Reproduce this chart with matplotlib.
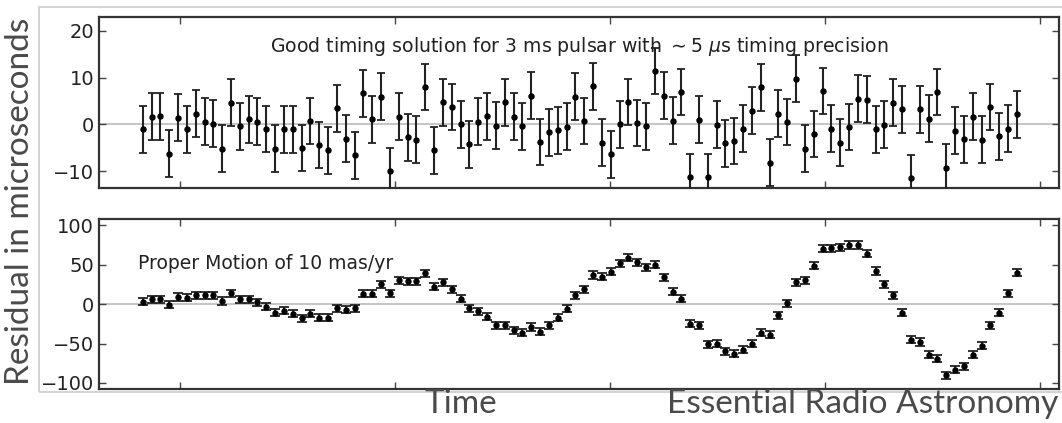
import matplotlib
matplotlib.use("Agg")
import matplotlib.pyplot as plt
from matplotlib.patches import Rectangle
import numpy as np

plt.rcParams["font.family"] = ["DejaVu Sans"]
plt.rcParams["mathtext.fontset"] = "dejavusans"

# residuals (microseconds)
good_timing = [
    -1.1, 1.6, 1.7, -6.3, 1.4, -1.1, 2.3, 0.6, 0.1, -5.2,
    4.6, -0.4, 1.1, 0.6, -1.0, -5.2, -1.1, -1.1, -5.1, 0.7,
    -4.4, -5.6, 3.4, -3.1, -6.6, 6.6, 1.1, 5.9, -10.1, 1.6,
    -2.8, -3.3, 8.0, -5.6, 4.7, 3.7, 0.0, -4.3, 0.6, 1.7,
    -0.3, 4.7, 1.6, -0.4, 6.1, -3.8, -1.7, -1.3, -0.5, 5.9,
    0.7, 8.1, -3.9, -6.4, 0.0, 4.8, 0.3, -0.4, 11.4, 6.1,
    0.8, 6.9, -11.3, 1.0, -11.3, -0.1, -4.1, -3.6, -0.9, 2.9,
    7.9, -8.2, 2.3, 0.5, 9.8, -5.2, -2.1, 7.1, -0.9, -3.9,
    -0.6, 5.5, 5.3, -1.1, -0.1, 4.6, 3.2, -11.5, 3.2, 1.2,
    6.9, -9.3, -1.4, -3.2, 1.6, -3.3, 3.7, -2.6, -0.9, 2.1,
]
proper_motion = [
    3, 6, 6, -1, 9, 8, 11, 11, 11, 4,
    14, 6, 6, 2.5, -3, -11, -8.5, -12, -18, -12,
    -17, -17, -5, -7, -5, 13, 13, 25, 14, 30,
    29, 29, 39, 22, 28, 19, 7, -5.5, -9, -16,
    -27, -27, -33, -36, -29, -35, -27, -17, -6, 11,
    19, 37, 35, 41, 52, 59, 53, 47, 50, 34,
    16, 7, -25, -27, -51, -50, -60, -63, -58, -50,
    -36, -39, -14, 1, 28, 30, 49, 70, 71, 72,
    75, 75, 64, 42, 25, 11, -11, -45, -48, -64,
    -69, -90, -83, -79, -64, -53, -27, -11, 14, 40,
]
top_err = 5.0
bottom_err = 4.5
time = np.arange(len(good_timing))
time_ticks = [4.2, 28.55, 52.9, 77.25, 101.6]

fig = plt.figure(figsize=(10.62, 4.23), dpi=100)

# light grey frame around the embedded plot
fig.patches.append(Rectangle((39 / 1062, 31 / 423), 1.0, 385 / 423,
                             transform=fig.transFigure, fill=False,
                             edgecolor="#cccccc", linewidth=1.2))

ax1 = fig.add_axes([0.0932, 0.5548, 0.9040, 0.4043])
ax2 = fig.add_axes([0.0932, 0.0797, 0.9040, 0.4026])

for ax, y, err, cap in [(ax1, good_timing, top_err, 2.7),
                        (ax2, proper_motion, bottom_err, 3.3)]:
    ax.axhline(0, color="#bbbbbb", linewidth=1.2, zorder=1)
    ax.errorbar(time, y, yerr=err, fmt="o", color="black", ecolor="#222222",
                markersize=3.6, elinewidth=1.5, capsize=cap, capthick=1.3,
                zorder=3)
    ax.set_xlim(-4.95, 103.77)
    ax.set_xticks(time_ticks)
    ax.set_xticklabels([])
    ax.tick_params(direction="in", top=True, right=True, length=5,
                   width=1, color="#444444", labelsize=14, labelcolor="#222222")
    for s in ax.spines.values():
        s.set_linewidth(1.6)
        s.set_color("#333333")

ax1.set_ylim(-13.7, 22.9)
ax1.set_yticks([-10, 0, 10, 20])
ax2.set_ylim(-108, 108)
ax2.set_yticks([-100, -50, 0, 50, 100])

ax1.text(0.5, 0.83, r"Good timing solution for 3 ms pulsar with $\sim 5$ $\mu$s timing precision",
         transform=ax1.transAxes, ha="center", va="center", fontsize=13.6, color="#222222")
ax2.text(0.041, 0.74, "Proper Motion of 10 mas/yr",
         transform=ax2.transAxes, ha="left", va="center", fontsize=13.5, color="#222222")

outer = dict(family="Lato", color="#4a4a4a", fontsize=24)
fig.text(20 / 1062, 0.525, "Residual in microseconds", rotation=90,
         ha="center", va="center", **outer)
fig.text(461 / 1062, 4 / 423, "Time", ha="center", va="bottom", **outer)
fig.text(1058 / 1062, 4 / 423, "Essential Radio Astronomy", ha="right",
         va="bottom", **outer)

fig.savefig("out.png", dpi=100)
